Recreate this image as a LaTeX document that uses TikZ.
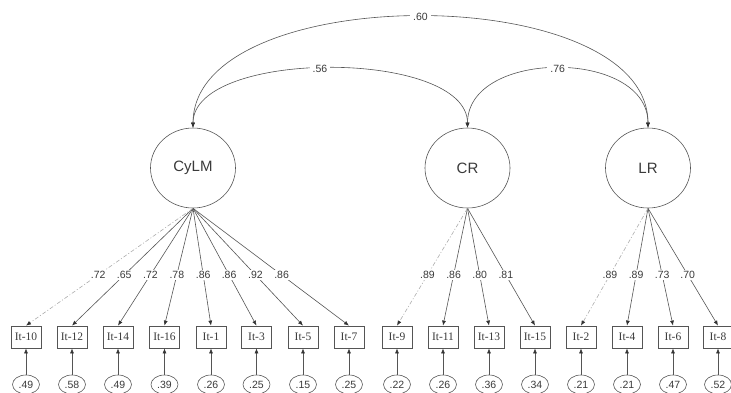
\documentclass[tikz,border=0pt]{standalone}
\usepackage{fontspec}
\setmainfont{Liberation Sans}
\newfontfamily\itemfont{Liberation Serif}
\usetikzlibrary{arrows.meta,shapes.geometric}
\definecolor{ln}{HTML}{555555}
\definecolor{tx}{HTML}{3A3A3A}
\begin{document}
\begin{tikzpicture}[x=1pt,y=-1pt,
 latent/.style={ellipse,draw=ln,line width=0.6pt,minimum width=85pt,minimum height=80pt,inner sep=0pt,text=tx,font=\fontsize{15}{18}\selectfont},
 obs/.style={rectangle,draw=ln,line width=0.8pt,minimum width=30pt,minimum height=22pt,inner sep=0pt,text=tx,font=\itemfont\fontsize{11.5}{13}\selectfont},
 err/.style={ellipse,draw=ln,line width=0.6pt,minimum width=27pt,minimum height=19pt,inner sep=0pt,text=tx,font=\fontsize{10.5}{12}\selectfont},
 ld/.style={draw=ln,line width=0.6pt,-{Latex[length=5pt,width=4pt,color=black!80]}},
 ldfix/.style={draw=gray!65,line width=0.6pt,dash pattern=on 4pt off 2pt on 1pt off 2pt,-{Latex[length=5pt,width=4pt,color=black!80]}},
 lbl/.style={fill=white,inner sep=1.5pt,text=tx,font=\fontsize{10.5}{12}\selectfont},
 cov/.style={draw=ln,line width=0.6pt,{Latex[length=5pt,width=4pt,color=black!80]}-{Latex[length=5pt,width=4pt,color=black!80]}}
]
\useasboundingbox (0,0) rectangle (731,392);

\node[latent] (cylm) at (193,168) {CyLM};
\node[latent] (cr) at (467.5,168) {CR};
\node[latent] (lr) at (648,168) {LR};

% observed items and errors
\foreach \n/\x/\e in {10/26/.49, 12/72/.58, 14/118/.49, 16/164.5/.39, 1/211/.26, 3/256.5/.25, 5/303/.15, 7/349/.25,
  9/397/.22, 11/443/.26, 13/489/.36, 15/535/.34, 2/581/.21, 4/627/.21, 6/673/.47, 8/718/.52}{
  \node[obs] (o\n) at (\x,337) {It-\n};
  \node[err] (e\n) at (\x,384.5) {\e};
  \draw[ld] (e\n.north) -- (o\n.south);
}

% loadings
\foreach \n/\l/\lat in {12/.65/cylm, 14/.72/cylm, 16/.78/cylm, 1/.86/cylm, 3/.86/cylm, 5/.92/cylm, 7/.86/cylm,
  11/.86/cr, 13/.80/cr, 15/.81/cr, 4/.89/lr, 6/.73/lr, 8/.70/lr}{
  \draw[ld] (\lat.south) -- (o\n.north) node[lbl,pos=0.568] {\l};
}
\foreach \n/\l/\lat in {10/.72/cylm, 9/.89/cr, 2/.89/lr}{
  \draw[ldfix] (\lat.south) -- (o\n.north) node[lbl,pos=0.568] {\l};
}

% covariances
\draw[cov] (cylm.north) .. controls +(0,-148) and +(0,-148) .. (lr.north) node[lbl,pos=0.5,inner sep=3pt] {.60};
\draw[cov] (cylm.north) .. controls +(0,-79) and +(0,-79) .. (cr.north) node[lbl,pos=0.475,inner sep=3pt] {.56};
\draw[cov] (cr.north) .. controls +(0,-79) and +(0,-79) .. (lr.north) node[lbl,pos=0.5,inner sep=3pt] {.76};
\end{tikzpicture}
\end{document}
